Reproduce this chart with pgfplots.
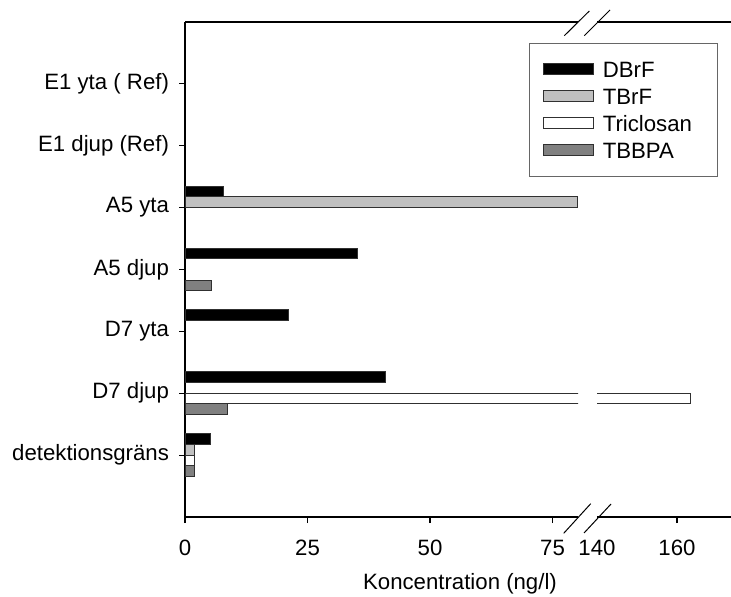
\documentclass[border=0pt]{standalone}
\usepackage{pgfplots}
\pgfplotsset{compat=1.18}
\usepackage{fontspec}
\setmainfont{Liberation Sans}
\definecolor{tbrf}{HTML}{C0C0C0}
\definecolor{tbbpa}{HTML}{808080}
\definecolor{edge}{HTML}{303030}
\newcommand{\ff}{\fontsize{11.1}{13}\selectfont}
\pgfplotsset{
  sw/.style={legend image code/.code={\draw[##1,/tikz/.cd,line width=0.5pt] (0pt,-2.75pt) rectangle (25.3pt,2.75pt);}},
  brk/.style={
    scale only axis, height=247.5pt, ymin=0, ymax=8,
    xbar, bar width=5.35pt,
    tick align=outside, major tick length=3pt,
    tick style={black, line width=0.6pt},
    axis line style={black, line width=0.6pt},
    /pgf/number format/assume math mode=true,
    tick label style={font=\ff},
    xticklabel style={yshift=-5pt},
    yticklabel style={xshift=-1.5pt},
    xtick pos=left,
    every axis plot/.append style={draw=edge, line width=0.5pt},
  },
}
\begin{document}
\begin{tikzpicture}
\useasboundingbox (0,0) rectangle (365.5pt,298pt);
% left segment
\begin{axis}[brk,
  at={(92.5pt,39.5pt)}, anchor=south west,
  width=196.5pt, xmin=0, xmax=80.2,
  axis x line*=box, axis y line*=left,
  xtick={0,25,50,75},
  ytick={1,2,3,4,5,6,7}, ytick pos=left,
  yticklabels={detektionsgräns, D7 djup, D7 yta, A5 djup, A5 yta, E1 djup (Ref), E1 yta ( Ref)},
  legend cell align=left,
  legend style={at={(0.876,0.958)}, anchor=north west, draw=black!60, line width=0.5pt,
    inner xsep=6.5pt, inner ysep=9pt, row sep=5.5pt,
    nodes={inner sep=0pt, text height=8pt, text depth=0pt, text width=51pt, font=\ff},
    /tikz/every odd column/.append style={column sep=4.2pt}},
]
\addplot[sw, fill=black, bar shift=8.025pt] coordinates {(7.8,5) (35.3,4) (21.2,3) (40.9,2) (5.2,1)};
\addplot[sw, fill=tbrf, bar shift=2.675pt] coordinates {(80,5) (2,1)};
\addplot[sw, fill=white, bar shift=-2.675pt] coordinates {(163.4,2) (2,1)};
\addplot[sw, fill=tbbpa, bar shift=-8.025pt] coordinates {(5.5,4) (8.7,2) (2,1)};
\legend{DBrF, TBrF, Triclosan, TBBPA}
\end{axis}
% right segment (only the bar that reaches beyond the break)
\begin{axis}[brk,
  at={(298.5pt,39.5pt)}, anchor=south west,
  width=67pt, xmin=140, xmax=173.5,
  axis x line*=box, axis y line=none,
  xtick={160}, ytick=\empty,
  extra x ticks={140}, extra x tick style={major tick length=0pt, xticklabel style={yshift=-3pt}},
]
\addplot[fill=white, bar shift=-2.675pt] coordinates {(163.4,2)};
% the bar is open at the break: hide its cut edge
\draw[white, line width=0.8pt] (axis cs:140,1.842) -- (axis cs:140,1.985);
\end{axis}
% axis break marks
\draw[line width=0.5pt] (282.15pt,280.15pt) -- (294.65pt,292.5pt);
\draw[line width=0.5pt] (292.15pt,280.15pt) -- (305pt,293pt);
\draw[line width=0.5pt] (281.85pt,31.35pt) -- (295.35pt,46.15pt);
\draw[line width=0.5pt] (292pt,31.5pt) -- (305.5pt,46pt);
\node[font=\ff] at (230pt,6pt) {Koncentration (ng/l)};
\end{tikzpicture}
\end{document}
